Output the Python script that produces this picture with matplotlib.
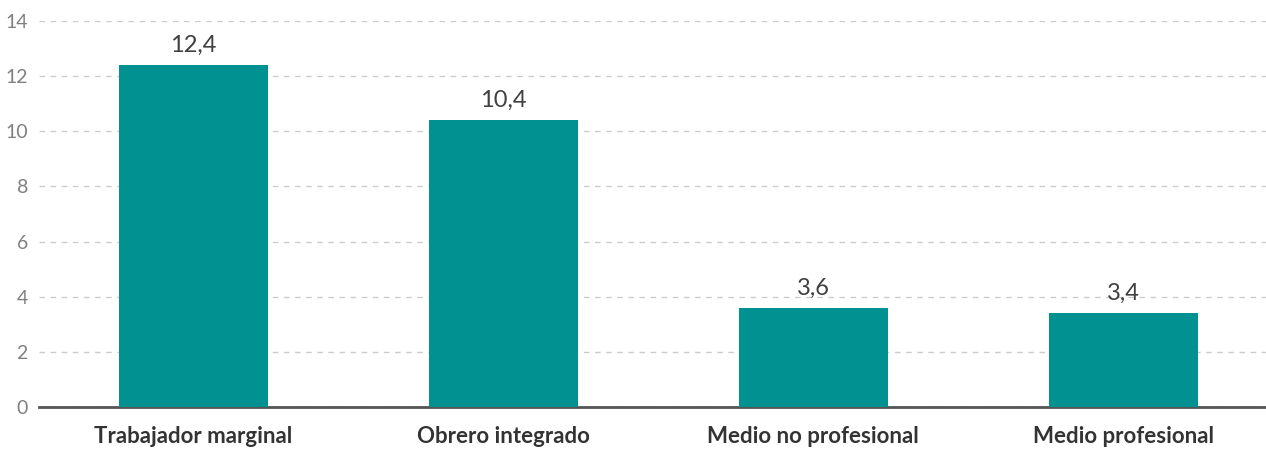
import matplotlib.pyplot as plt

categories = ["Trabajador marginal", "Obrero integrado", "Medio no profesional", "Medio profesional"]
values = [12.4, 10.4, 3.6, 3.4]
yticks = [0, 2, 4, 6, 8, 10, 12, 14]

plt.rcParams['font.family'] = ['Lato', 'DejaVu Sans']

fig = plt.figure(figsize=(12.66, 4.51), dpi=100)
ax = fig.add_axes([0.0308, 0.0976, 0.9692, 0.8558])

x = range(len(categories))
bars = ax.bar(x, values, width=0.48, color="#009190", zorder=3)

for xi, v in zip(x, values):
    ax.text(xi, v + 0.33, f"{v:.1f}".replace(".", ","), ha="center", va="bottom",
            fontsize=17, color="#404040")

ax.set_ylim(0, 14)
ax.set_xlim(-0.497, 3.46)
ax.set_yticks(yticks)
ax.set_yticklabels([str(t) for t in yticks], fontsize=14, color="#808080")
ax.set_xticks(list(x))
ax.set_xticklabels(categories, fontsize=16, fontweight="bold", color="#333333")

ax.grid(axis="y", linestyle=(0, (4, 4)), color="#cccccc", linewidth=1, zorder=0)
for s in ["top", "right", "left"]:
    ax.spines[s].set_visible(False)
ax.spines["bottom"].set_color("#555555")
ax.spines["bottom"].set_linewidth(2)
ax.tick_params(axis="y", length=0, pad=8)
ax.tick_params(axis="x", length=0, pad=14)

fig.savefig("out.png", dpi=100)
